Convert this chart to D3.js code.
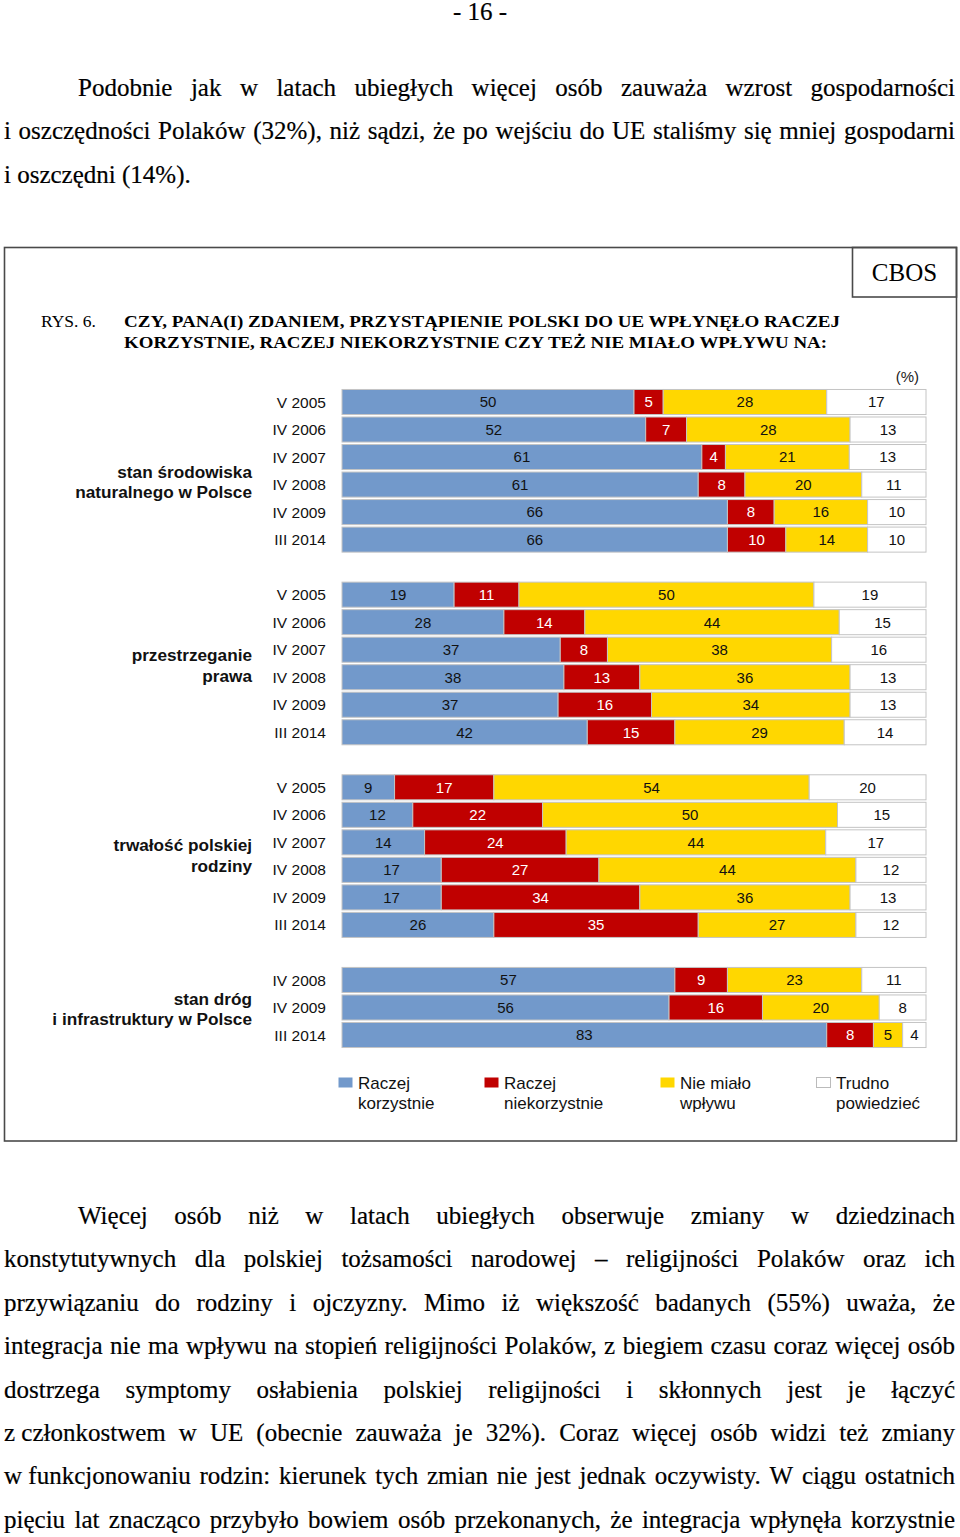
<!DOCTYPE html>
<html><head><meta charset="utf-8">
<script src="https://cdn.jsdelivr.net/npm/d3@7/dist/d3.min.js"></script>
<style>html,body{margin:0;padding:0;background:#fff}</style>
</head><body>
<script>
// ---------- DATA ----------
const groupNames = [
  ["stan środowiska", "naturalnego w Polsce"],
  ["przestrzeganie", "prawa"],
  ["trwałość polskiej", "rodziny"],
  ["stan dróg", "i infrastruktury w Polsce"]
];
const waveLabels = [
  ["V 2005", "IV 2006", "IV 2007", "IV 2008", "IV 2009", "III 2014"],
  ["V 2005", "IV 2006", "IV 2007", "IV 2008", "IV 2009", "III 2014"],
  ["V 2005", "IV 2006", "IV 2007", "IV 2008", "IV 2009", "III 2014"],
  ["IV 2008", "IV 2009", "III 2014"]
];
const seriesNames = [["Raczej", "korzystnie"], ["Raczej", "niekorzystnie"], ["Nie miało", "wpływu"], ["Trudno", "powiedzieć"]];
const korzystnie    = [[50, 52, 61, 61, 66, 66], [19, 28, 37, 38, 37, 42], [9, 12, 14, 17, 17, 26], [57, 56, 83]];
const niekorzystnie = [[5, 7, 4, 8, 8, 10], [11, 14, 8, 13, 16, 15], [17, 22, 24, 27, 34, 35], [9, 16, 8]];
const brakWplywu    = [[28, 28, 21, 20, 16, 14], [50, 44, 38, 36, 34, 29], [54, 50, 44, 44, 36, 27], [23, 20, 5]];
const trudno        = [[17, 13, 13, 11, 10, 10], [19, 15, 16, 13, 13, 14], [20, 15, 17, 12, 13, 12], [11, 8, 4]];

const pageNumber = "- 16 -";
const para1 = [
  "Podobnie jak w latach ubiegłych więcej osób zauważa wzrost gospodarności",
  "i oszczędności Polaków (32%), niż sądzi, że po wejściu do UE staliśmy się mniej gospodarni",
  "i oszczędni (14%)."
];
const para2 = [
  "Więcej osób niż w latach ubiegłych obserwuje zmiany w dziedzinach",
  "konstytutywnych dla polskiej tożsamości narodowej – religijności Polaków oraz ich",
  "przywiązaniu do rodziny i ojczyzny. Mimo iż większość badanych (55%) uważa, że",
  "integracja nie ma wpływu na stopień religijności Polaków, z biegiem czasu coraz więcej osób",
  "dostrzega symptomy osłabienia polskiej religijności i skłonnych jest je łączyć",
  "z\u00A0członkostwem w UE (obecnie zauważa je 32%). Coraz więcej osób widzi też zmiany",
  "w\u00A0funkcjonowaniu rodzin: kierunek tych zmian nie jest jednak oczywisty. W ciągu ostatnich",
  "pięciu lat znacząco przybyło bowiem osób przekonanych, że integracja wpłynęła korzystnie"
];
const figLabel = "RYS. 6.";
const figTitle = ["CZY, PANA(I) ZDANIEM, PRZYSTĄPIENIE POLSKI DO UE WPŁYNĘŁO RACZEJ",
                  "KORZYSTNIE, RACZEJ NIEKORZYSTNIE CZY TEŻ NIE MIAŁO WPŁYWU NA:"];
const sourceLabel = "CBOS";
const unitLabel = "(%)";

// ---------- LAYOUT / STYLE ----------
const W = 960, H = 1537;
const SERIF = "'Liberation Serif','Times New Roman',serif";
const SANS = "'Liberation Sans',Arial,sans-serif";
const colors = ["#7299CB", "#C00000", "#FFD700", "#FFFFFF"];
const labelColors = ["#111", "#fff", "#111", "#111"];

const svg = d3.select("body").append("svg").attr("width", W).attr("height", H)
  .style("display", "block");
svg.append("rect").attr("width", W).attr("height", H).attr("fill", "#fff");

// justified text helper
function textLine(text, x0, x1, y, justify) {
  const g = svg.append("g").attr("stroke", "#000").attr("stroke-width", 0.2);
  const words = text.split(" ");
  const nodes = words.map(w => g.append("text").attr("y", y)
    .attr("font-family", SERIF).attr("font-size", 25).attr("fill", "#000").text(w));
  const widths = nodes.map(n => n.node().getComputedTextLength());
  const total = d3.sum(widths);
  let gap = 6.25;
  if (justify && words.length > 1) gap = (x1 - x0 - total) / (words.length - 1);
  if (gap < 2) {
    g.remove();
    svg.append("text").attr("x", x0).attr("y", y).attr("font-family", SERIF).attr("font-size", 25)
      .attr("textLength", x1 - x0).attr("lengthAdjust", "spacingAndGlyphs").text(text);
    return;
  }
  let x = x0;
  nodes.forEach((n, i) => { n.attr("x", x); x += widths[i] + gap; });
}

svg.append("text").attr("x", 480).attr("y", 20).attr("text-anchor", "middle")
  .attr("font-family", SERIF).attr("font-size", 25).attr("stroke", "#000").attr("stroke-width", 0.2)
  .text(pageNumber);

const p1Base = [96, 139, 183];
para1.forEach((t, i) => textLine(t, i === 0 ? 78 : 4, 955, p1Base[i], i < para1.length - 1));
const p2Base = d3.range(8).map(i => 1224 + i * 43.4);
para2.forEach((t, i) => textLine(t, i === 0 ? 78 : 4, 955, p2Base[i], true));

// frame
const frame = svg.append("g").attr("fill", "none").attr("stroke", "#4a4a4a").attr("stroke-width", 1.6);
frame.append("rect").attr("x", 4.5).attr("y", 247.5).attr("width", 952).attr("height", 893.5);
frame.append("rect").attr("x", 852.5).attr("y", 247.5).attr("width", 104).attr("height", 49.5);
svg.append("text").attr("x", 904.5).attr("y", 281).attr("text-anchor", "middle")
  .attr("font-family", SERIF).attr("font-size", 25).text(sourceLabel);

svg.append("text").attr("x", 41).attr("y", 327).attr("font-family", SERIF).attr("font-size", 17.5)
  .text(figLabel);
const titleW = [716, 703];
figTitle.forEach((t, i) => svg.append("text").attr("x", 124).attr("y", 327 + i * 20.5)
  .attr("font-family", SERIF).attr("font-weight", "bold").attr("font-size", 17.5)
  .attr("textLength", titleW[i]).attr("lengthAdjust", "spacingAndGlyphs").text(t));

svg.append("text").attr("x", 919).attr("y", 382).attr("text-anchor", "end")
  .attr("font-family", SANS).attr("font-size", 15).attr("fill", "#222").text(unitLabel);

// ---------- CHART ----------
const rows = [];
const rowKeys = [];
groupNames.forEach((gn, gi) => {
  waveLabels[gi].forEach((wl, ri) => {
    const vals = [korzystnie[gi][ri], niekorzystnie[gi][ri], brakWplywu[gi][ri], trudno[gi][ri]];
    const key = gi + "-" + ri;
    rows.push({ key, gi, wave: wl, vals });
    rowKeys.push(key);
  });
  if (gi < groupNames.length - 1) rowKeys.push("gap" + gi);
});

const step = 633 / 23;
const y = d3.scaleBand().domain(rowKeys)
  .range([402 - step / 2, 402 - step / 2 + step * rowKeys.length])
  .paddingInner(0.09).paddingOuter(0.045);
const x = d3.scaleLinear().domain([0, 1]).range([342, 926]);

const chart = svg.append("g");
rows.forEach(r => {
  const tot = d3.sum(r.vals);
  let cum = 0;
  const segs = r.vals.map((v, i) => { const s = { i, v, x0: cum / tot, x1: (cum + v) / tot }; cum += v; return s; });
  const gRow = chart.append("g");
  gRow.selectAll("rect").data(segs).join("rect")
    .attr("x", d => x(d.x0)).attr("width", d => x(d.x1) - x(d.x0))
    .attr("y", y(r.key)).attr("height", y.bandwidth())
    .attr("fill", d => colors[d.i]).attr("stroke", "#c4c4c4").attr("stroke-width", 1);
  gRow.selectAll("text").data(segs).join("text")
    .attr("x", d => (x(d.x0) + x(d.x1)) / 2).attr("y", y(r.key) + y.bandwidth() / 2)
    .attr("dy", "0.36em").attr("text-anchor", "middle")
    .attr("font-family", SANS).attr("font-size", 15).attr("fill", d => labelColors[d.i])
    .text(d => d.v);
  chart.append("text").attr("x", 326).attr("y", y(r.key) + y.bandwidth() / 2).attr("dy", "0.36em")
    .attr("text-anchor", "end").attr("font-family", SANS).attr("font-size", 15.5).attr("fill", "#111")
    .text(r.wave);
});

const groupLabelY = [471.5, 655, 845, 998.5];
groupNames.forEach((gn, gi) => {
  gn.forEach((ln, li) => chart.append("text").attr("x", 252).attr("y", groupLabelY[gi] + li * 20.5)
    .attr("dy", "0.36em").attr("text-anchor", "end").attr("font-family", SANS)
    .attr("font-weight", "bold").attr("font-size", 17.2).attr("fill", "#111").text(ln));
});

// legend
const legX = [338, 484, 660, 816];
const leg = svg.append("g");
seriesNames.forEach((sn, i) => {
  leg.append("rect").attr("x", legX[i] + 0.5).attr("y", 1077.5).attr("width", 14).attr("height", 10)
    .attr("fill", colors[i]).attr("stroke", i === 3 ? "#bbb" : "none");
  sn.forEach((ln, li) => leg.append("text").attr("x", legX[i] + 20).attr("y", 1082.5 + li * 20)
    .attr("dy", "0.36em").attr("font-family", SANS).attr("font-size", 17).attr("fill", "#111").text(ln));
});
</script>
</body></html>
